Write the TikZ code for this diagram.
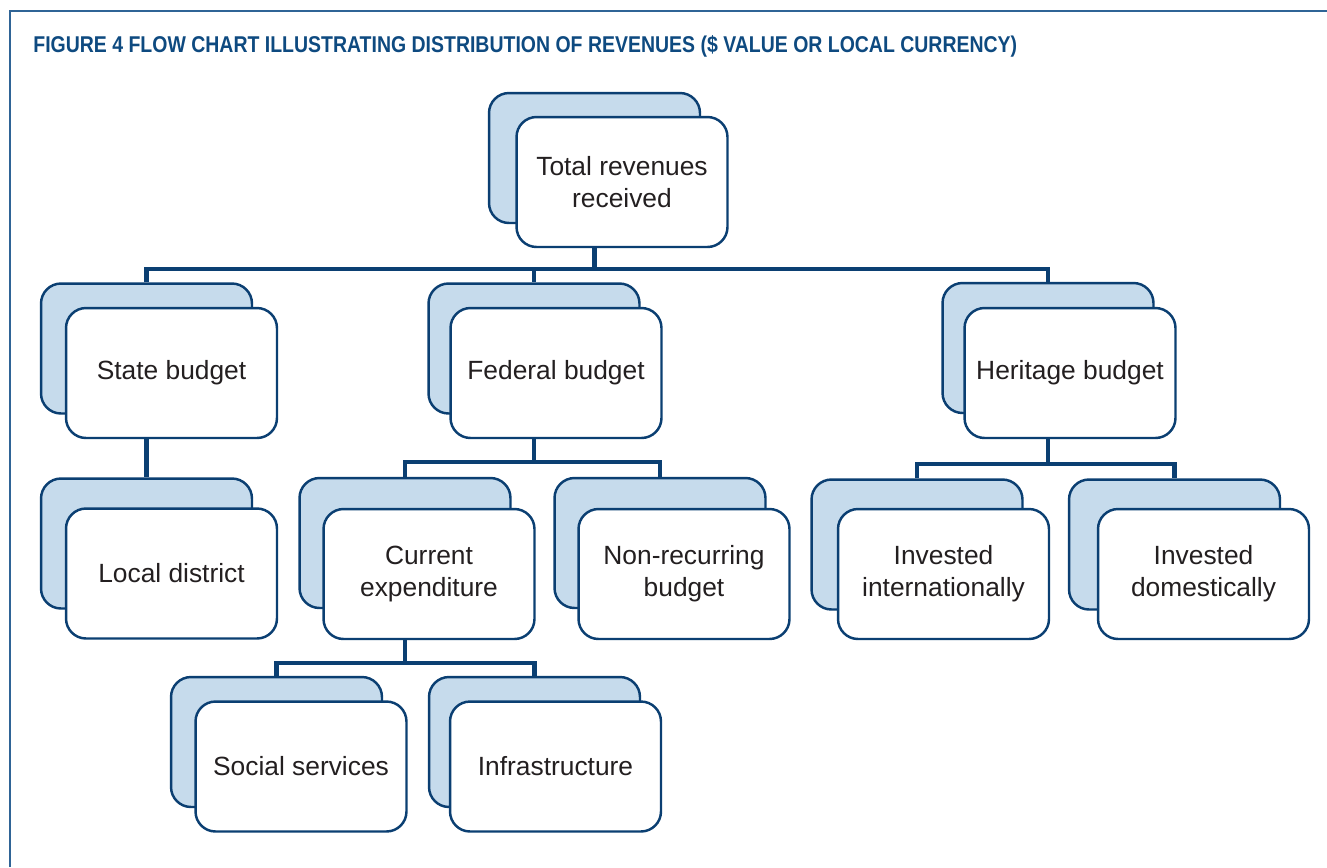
\documentclass[tikz,border=0pt]{standalone}
\usepackage{fontspec}
\setmainfont{Liberation Sans}
\usetikzlibrary{calc}

\definecolor{navy}{HTML}{0B3F72}
\definecolor{framec}{HTML}{2F6496}
\definecolor{shade}{HTML}{C6DBEC}
\definecolor{ink}{HTML}{231F20}
\definecolor{titleblue}{HTML}{0E4A80}

\tikzset{
  backbox/.style={draw=navy, fill=shade, line width=1.4pt, rounded corners=0.4cm,
    minimum width=4.22cm, minimum height=2.6cm, inner sep=0pt},
  frontbox/.style={backbox, fill=white, text=ink, align=center,
    font=\fontsize{15}{18.2}\selectfont},
  conn/.style={draw=navy, line width=2.5pt},
  figtitle/.style={anchor=base west, text=titleblue, inner sep=0pt,
    font=\fontsize{13}{15}\selectfont\bfseries},
}

% a card with a shaded card behind it: name, front centre, back centre, text
\newcommand\cardpair[6]{%
  \node[backbox] (#1-b) at (#4,#5) {};
  \node[frontbox] (#1) at (#2,#3) {#6};}

\begin{document}
\begin{tikzpicture}[x=0.02cm, y=-0.02cm]
  \useasboundingbox (0,0) rectangle (1327,867);

  % open frame on the left and top
  \draw[framec, line width=0.9pt] (10,867) -- (10,11) -- (1327,11);

  \node[figtitle] (title) at (33,52)
    {\resizebox{19.68cm}{\height}{FIGURE 4 FLOW CHART ILLUSTRATING DISTRIBUTION OF REVENUES (\$ VALUE OR LOCAL CURRENCY)}};

  % cards
  \cardpair{tot}{622}{182}{594.5}{158}{Total revenues\\received}
  \cardpair{state}{171.5}{373}{146.5}{348.5}{State budget}
  \cardpair{fed}{556}{373}{534}{348.5}{Federal budget}
  \cardpair{her}{1070}{373}{1048}{348}{Heritage budget}
  \cardpair{loc}{171.5}{573.5}{146.5}{543.5}{Local district}
  \cardpair{cur}{429}{574}{405}{543}{Current\\expenditure}
  \cardpair{non}{684}{574}{660}{543}{Non-recurring\\budget}
  \cardpair{intl}{943.5}{574}{917}{544.5}{Invested\\internationally}
  \cardpair{dom}{1203.5}{574}{1174.5}{544.5}{Invested\\domestically}
  \cardpair{soc}{301}{766.5}{276.5}{742}{Social services}
  \cardpair{inf}{555.5}{766.5}{534.5}{742}{Infrastructure}

  % bus lines
  \coordinate (bus1) at (0,269);
  \coordinate (bus2) at (0,462);
  \coordinate (bus3) at (0,663);
  \coordinate (bus4) at (0,464);

  % total -> state / federal / heritage
  \draw[conn] (tot-b |- tot.south) -- (tot-b |- bus1);
  \draw[conn] (state-b.north) |- (her-b |- bus1) -- (her-b.north);
  \draw[conn] (fed-b |- bus1) -- (fed-b.north);

  % state -> local
  \draw[conn] (state-b |- state.south) -- (loc-b.north);

  % federal -> current / non-recurring
  \draw[conn] (fed-b |- fed.south) -- (fed-b |- bus2);
  \draw[conn] (cur-b.north) |- (non-b |- bus2) -- (non-b.north);

  % current -> social / infrastructure
  \draw[conn] (cur-b |- cur.south) -- (cur-b |- bus3);
  \draw[conn] (soc-b.north) |- (inf-b |- bus3) -- (inf-b.north);

  % heritage -> international / domestic
  \draw[conn] (her-b |- her.south) -- (her-b |- bus4);
  \draw[conn] (intl-b.north) |- (dom-b |- bus4) -- (dom-b.north);
\end{tikzpicture}
\end{document}
